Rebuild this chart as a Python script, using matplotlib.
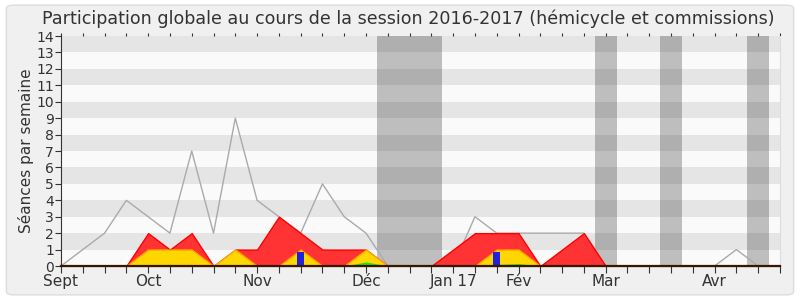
import numpy as np
import matplotlib.pyplot as plt
from matplotlib.patches import FancyBboxPatch

# weekly data, week 0 = first week of September 2016
weeks = np.arange(34)
total = [0, 1, 2, 4, 3, 2, 7, 2, 9, 4, 3, 2, 5, 3, 2, 0, 0, 0,
         0, 3, 2, 2, 2, 2, 2, 0, 0, 0, 0, 0, 0, 1, 0, 0]
red = [0, 0, 0, 0, 2, 1, 2, 0, 1, 1, 3, 2, 1, 1, 1, 0, 0, 0,
       1, 2, 2, 2, 0, 1, 2, 0, 0, 0, 0, 0, 0, 0, 0, 0]
yellow = [0, 0, 0, 0, 1, 1, 1, 0, 1, 0, 0, 1, 0, 0, 1, 0, 0, 0,
          0, 0, 1, 1, 0, 0, 0, 0, 0, 0, 0, 0, 0, 0, 0, 0]
green = [0, 0, 0, 0, 0.05, 0.1, 0.05, 0, 0.05, 0, 0, 0.1, 0, 0, 0.25, 0, 0, 0,
         0, 0, 0.1, 0.15, 0, 0, 0, 0, 0, 0, 0, 0, 0, 0, 0, 0]
blue_weeks = [11, 20]
blue_vals = [0.87, 0.87]
vacances = [15, 16, 17, 25, 28, 32]
month_weeks = [0, 4, 9, 14, 18, 21, 25, 30]
month_labels = ['Sept', 'Oct', 'Nov', 'Déc', 'Jan 17', 'Fév', 'Mar', 'Avr']

fig = plt.figure(figsize=(8, 3), dpi=100, facecolor='white')
bg = FancyBboxPatch((0.008, 0.017), 0.984, 0.966, transform=fig.transFigure,
                    boxstyle='round,pad=0,rounding_size=0.01',
                    facecolor='#f0f0f0', edgecolor='#dcdcdc', linewidth=1, zorder=-10)
fig.patches.append(bg)
ax = fig.add_axes([0.07625, 0.1133, 0.8987, 0.7667])
ax.set_facecolor('#fafafa')

# horizontal stripes
for y in range(1, 14, 2):
    ax.axhspan(y, y + 1, color='#e5e5e5', lw=0, zorder=0)

# holiday weeks
for w in vacances:
    ax.axvspan(w - 0.5, w + 0.5, color='#343434', alpha=0.3, lw=0, zorder=1)

ax.plot(weeks, total, color='#aaaaaa', lw=1, zorder=2)
ax.fill_between(weeks, red, color='#ff3333', edgecolor='#ff0000', lw=1, zorder=3)
ax.fill_between(weeks, yellow, color='#ffd700', edgecolor='#ffaa00', lw=1, zorder=4)
ax.fill_between(weeks, green, color='#22dd22', lw=0, zorder=5)
ax.bar(blue_weeks, blue_vals, width=0.3, color='#2222dd', zorder=6)
ax.axhline(0, color='#3a1500', lw=1.6, zorder=7, clip_on=False)

ax.set_xlim(0, 33)
ax.set_ylim(0, 14)
ax.set_yticks(range(15))
ax.tick_params(axis='y', labelsize=10, length=4, pad=1, colors='#333333')
labels = [''] * 34
for w, lab in zip(month_weeks, month_labels):
    labels[w] = lab
ax.set_xticks(weeks)
ax.set_xticklabels(labels)
ax.tick_params(axis='x', labelsize=11, length=5, pad=1, colors='#333333', top=True)
for t in ax.xaxis.get_major_ticks():
    t.tick2line.set_markersize(2)

ax.spines['top'].set_visible(False)
ax.spines['right'].set_color('#dddddd')
ax.spines['left'].set_color('#333333')
ax.spines['bottom'].set_color('#333333')

ax.set_ylabel('Séances par semaine', fontsize=11, color='#333333', labelpad=2)
fig.text(0.51, 0.937, 'Participation globale au cours de la session 2016-2017 (hémicycle et commissions)',
         ha='center', va='center', fontsize=12.6, color='#333333')

fig.savefig('out.png', dpi=100, facecolor='white')
